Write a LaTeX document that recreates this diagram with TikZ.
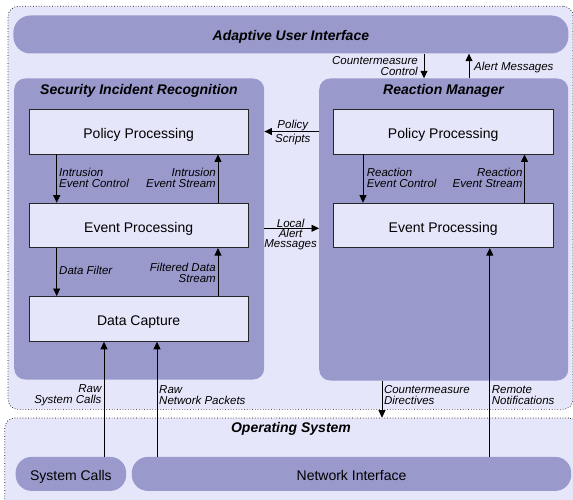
\documentclass[tikz,border=0pt]{standalone}
\usepackage{fontspec}
\setmainfont{Liberation Sans}
\usetikzlibrary{arrows.meta}
\definecolor{bglight}{RGB}{230,230,250}
\definecolor{boxfill}{RGB}{230,230,250}
\definecolor{contcol}{RGB}{153,153,204}
\tikzset{
 outerbox/.style={draw=black, dotted, line width=0.7pt, fill=bglight, rounded corners=10pt, anchor=north west, inner sep=0},
 cont/.style={fill=contcol, rounded corners=11pt, anchor=north west, inner sep=0, draw=none},
 pill/.style={fill=contcol, rounded corners=16pt, anchor=north west, inner sep=0, font=\fontsize{14}{16}\selectfont, text height=13pt, text depth=0pt},
 procbox/.style={draw=black!85, line width=0.8pt, fill=boxfill, anchor=north west, inner sep=0, font=\fontsize{14}{16}\selectfont, text height=14pt, text depth=0pt},
 ttl/.style={font=\fontsize{14}{16}\selectfont\bfseries\itshape, inner sep=0},
 lbl/.style={font=\fontsize{11.5}{10.7}\selectfont\itshape, inner sep=0},
 arr/.style={-{Triangle[length=7.5pt,width=7pt]}, line width=0.75pt, draw=black},
}
\begin{document}
\begin{tikzpicture}[x=1pt,y=-1pt]
\useasboundingbox (0,0) rectangle (573,500);
\clip (0,0) rectangle (573,500);
% outer dotted regions
\node[outerbox, minimum width=565pt, minimum height=403pt] (upper) at (7.7,6) {};
\node[outerbox, minimum width=574pt, minimum height=100pt] (os) at (4.4,417.7) {};
\node[ttl] (ostitle) at (291,429.3) {Operating System};
% bars and containers
\node[pill, minimum width=555pt, minimum height=38pt, rounded corners=17pt] (aui) at (13.2,15.3) {\bfseries\itshape Adaptive User Interface};
\node[cont, minimum width=250pt, minimum height=301pt] (sir) at (14,78.3) {};
\node[cont, minimum width=249pt, minimum height=302pt] (rm) at (319,78.3) {};
\node[ttl] (sirtitle) at (139,90.7) {Security Incident Recognition};
\node[ttl] (rmtitle) at (443.5,90.7) {Reaction Manager};
% process boxes
\node[procbox, minimum width=219.5pt, minimum height=44.4pt] (sirpp) at (28.5,109.3) {Policy Processing};
\node[procbox, minimum width=219.5pt, minimum height=44.6pt] (sirep) at (28.5,202.7) {Event Processing};
\node[procbox, minimum width=219.5pt, minimum height=45pt] (sirdc) at (28.5,296) {Data Capture};
\node[procbox, minimum width=219.6pt, minimum height=44.4pt] (rmpp) at (333,109.3) {Policy Processing};
\node[procbox, minimum width=219.6pt, minimum height=44.6pt] (rmep) at (333,202.7) {Event Processing};
% OS pills
\node[pill, minimum width=110.6pt, minimum height=34pt] (sc) at (15.4,456.7) {System Calls};
\node[pill, minimum width=439.4pt, minimum height=34pt] (ni) at (131.6,456.7) {Network Interface};
% x / y guides
\coordinate (xa) at (56.7,0);
\coordinate (xb) at (218,0);
\coordinate (xc) at (363,0);
\coordinate (xd) at (524.5,0);
\coordinate (xe) at (424,0);
\coordinate (xf) at (469,0);
\coordinate (xg) at (104,0);
\coordinate (xh) at (157,0);
\coordinate (xi) at (382,0);
\coordinate (xj) at (489.8,0);
\coordinate (yp) at (0,131.5);
\coordinate (yl) at (0,228.3);
% arrows
\draw[arr] (sirpp.south -| xa) -- (sirep.north -| xa);
\draw[arr] (sirep.north -| xb) -- (sirpp.south -| xb);
\draw[arr] (sirep.south -| xa) -- (sirdc.north -| xa);
\draw[arr] (sirdc.north -| xb) -- (sirep.south -| xb);
\draw[arr] (sc.north -| xg) -- (sirdc.south -| xg);
\draw[arr] (ni.north -| xh) -- (sirdc.south -| xh);
\draw[arr] (rmpp.south -| xc) -- (rmep.north -| xc);
\draw[arr] (rmep.north -| xd) -- (rmpp.south -| xd);
\draw[arr] (ni.north -| xj) -- (rmep.south -| xj);
\draw[arr] (aui.south -| xe) -- (rm.north -| xe);
\draw[arr] (rm.north -| xf) -- (aui.south -| xf);
\draw[arr] (rm.south -| xi) -- (os.north -| xi);
\draw[arr] (rm.west |- yp) -- (sir.east |- yp);
\draw[arr] (sir.east |- yl) -- (rm.west |- yl);
% labels
\node[lbl, align=right, anchor=east] (lcc) at (418,66.3) {Countermeasure\\Control};
\node[lbl, anchor=west] (lam) at (474,67.7) {Alert Messages};
\node[lbl, align=center, font=\fontsize{11.5}{14.4}\selectfont\itshape] (lps) at (292.8,132.5) {Policy\\Scripts};
\node[lbl, align=center, font=\fontsize{11.5}{10}\selectfont\itshape] (lla) at (290.6,234.3) {Local\\Alert\\Messages};
\node[lbl, align=left, anchor=west] (liec) at (59,177.7) {Intrusion\\Event Control};
\node[lbl, align=right, anchor=east] (lies) at (216,177.7) {Intrusion\\Event Stream};
\node[lbl, anchor=west] (ldf) at (59,270.7) {Data Filter};
\node[lbl, align=right, anchor=east] (lfds) at (216,272.7) {Filtered Data\\Stream};
\node[lbl, align=left, anchor=west] (lrec) at (366.6,177.7) {Reaction\\Event Control};
\node[lbl, align=right, anchor=east] (lres) at (522.6,177.7) {Reaction\\Event Stream};
\node[lbl, align=right, anchor=east] (lrsc) at (101.6,395.3) {Raw\\System Calls};
\node[lbl, align=left, anchor=west] (lrnp) at (159,395.3) {Raw\\Network Packets};
\node[lbl, align=left, anchor=west] (lcd) at (383.8,395.3) {Countermeasure\\Directives};
\node[lbl, align=left, anchor=west] (lrn) at (491.6,395.3) {Remote\\Notifications};
\end{tikzpicture}
\end{document}
